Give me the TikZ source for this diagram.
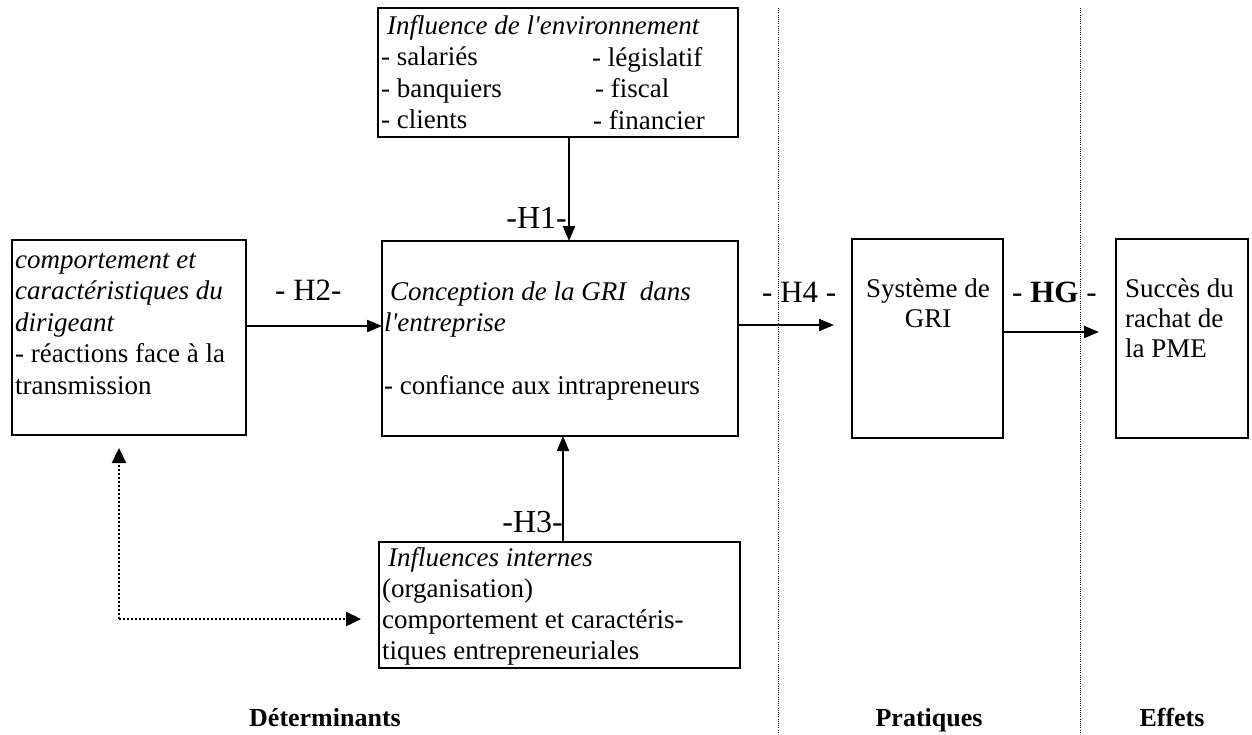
\documentclass[tikz,border=0pt]{standalone}
\usepackage{fontspec}
\setmainfont{Liberation Serif}[Ligatures=TeXOff]
\usetikzlibrary{arrows.meta}
\begin{document}
\begin{tikzpicture}[x=1pt,y=-1pt,
  box/.style={draw, line width=2.1pt, inner sep=0pt, outer sep=0pt, anchor=north west},
  txt/.style={anchor=base west, inner sep=0pt, align=left, font=\fontsize{27}{31.5}\selectfont},
  txtc/.style={anchor=base, inner sep=0pt, align=center, font=\fontsize{27}{30}\selectfont},
  hypw/.style={anchor=base west, inner sep=0pt, font=\fontsize{31}{36}\selectfont},
  hype/.style={anchor=base east, inner sep=0pt, font=\fontsize{32}{38}\selectfont},
  lab/.style={anchor=base, inner sep=0pt, font=\bfseries\fontsize{26}{30}\selectfont},
  arr/.style={line width=2.1pt, -{Triangle[length=15pt,width=12pt]}},
  dotarr/.style={line width=2.4pt, dash pattern=on 2.2pt off 1.8pt, -{Triangle[length=15pt,width=14pt]}},
  sep/.style={line width=0.8pt, dash pattern=on 1pt off 1.2pt}
]
\fill[white] (0,0) rectangle (1252,734);
\useasboundingbox (0,0) rectangle (1252,734);

% separators
\draw[sep] (778,8) -- (778,734);
\draw[sep] (1080,8) -- (1080,734);

% boxes
\node[box, minimum width=360pt, minimum height=129pt] (env) at (378,8) {};
\node[box, minimum width=234pt, minimum height=195pt] (lead) at (12,240) {};
\node[box, minimum width=356pt, minimum height=195pt] (concep) at (382,241) {};
\node[box, minimum width=361pt, minimum height=126pt] (intern) at (379,542) {};
\node[box, minimum width=151pt, minimum height=199pt] (sys) at (852,239) {};
\node[box, minimum width=132pt, minimum height=199pt] (succes) at (1116,239) {};

% texts (base anchor = baseline of the last line)
\node[txt] (envl) at (381,128.5) {\hspace*{6pt}\textit{Influence de l'environnement}\\- salariés\\- banquiers\\- clients};
\node[txt] (envr) at (592,129) {- législatif\\\hspace*{3pt}- fiscal\\\hspace*{1pt}- financier};
\node[txt] (leadt) at (15,394) {\textit{comportement et}\\\textit{caractéristiques du}\\\textit{dirigeant}\\- réactions face à la\\transmission};
\node[txt] (concept) at (384,394.5) {\hspace*{6pt}\textit{Conception de la GRI\ \ dans}\\\textit{l'entreprise}\\\mbox{}\\- confiance aux intrapreneurs};
\node[txt, font=\fontsize{27}{31}\selectfont] (internt) at (382,659) {\hspace*{6pt}\textit{Influences internes}\\(organisation)\\comportement et caractéris-\\tiques entrepreneuriales};
\node[txtc] (syst) at (928,327) {Système de\\GRI};
\node[txt, font=\fontsize{27}{30}\selectfont] (succest) at (1125,357) {Succès du\\rachat de\\la PME};

% hypothesis labels
\node[hype] (h1) at (567,228) {-H1-};
\node[hypw] (h2) at (275,300) {- H2-};
\node[hype] (h3) at (563,532) {-H3-};
\node[hypw] (h4) at (762,302) {- H4 -};
\node[hypw] (hg) at (1012,302) {- \textbf{HG} -};

% bottom labels
\node[lab] (det) at (325,726) {Déterminants};
\node[lab] (prat) at (929,726) {Pratiques};
\node[lab] (eff) at (1172,726) {Effets};

% connector coordinates
\coordinate (h1x) at (569,0);
\coordinate (h2y) at (0,326);
\coordinate (h3x) at (563,0);
\coordinate (h4end) at (834,325);
\coordinate (h4y) at (0,325);
\coordinate (hgend) at (1099,332);
\coordinate (hgy) at (0,332);
\coordinate (dcorner) at (119,619);
\coordinate (dtop) at (119,448);
\coordinate (dright) at (361,619);

% connectors
\draw[arr] (h1x |- env.south) -- (h1x |- concep.north);
\draw[arr] (h2y -| lead.east) -- (h2y -| concep.west);
\draw[arr] (h3x |- intern.north) -- (h3x |- concep.south);
\draw[arr] (h4y -| concep.east) -- (h4end);
\draw[arr] (hgy -| sys.east) -- (hgend);
\draw[dotarr] (dcorner) -- (dtop);
\draw[dotarr] (dcorner) -- (dright);
\end{tikzpicture}
\end{document}
